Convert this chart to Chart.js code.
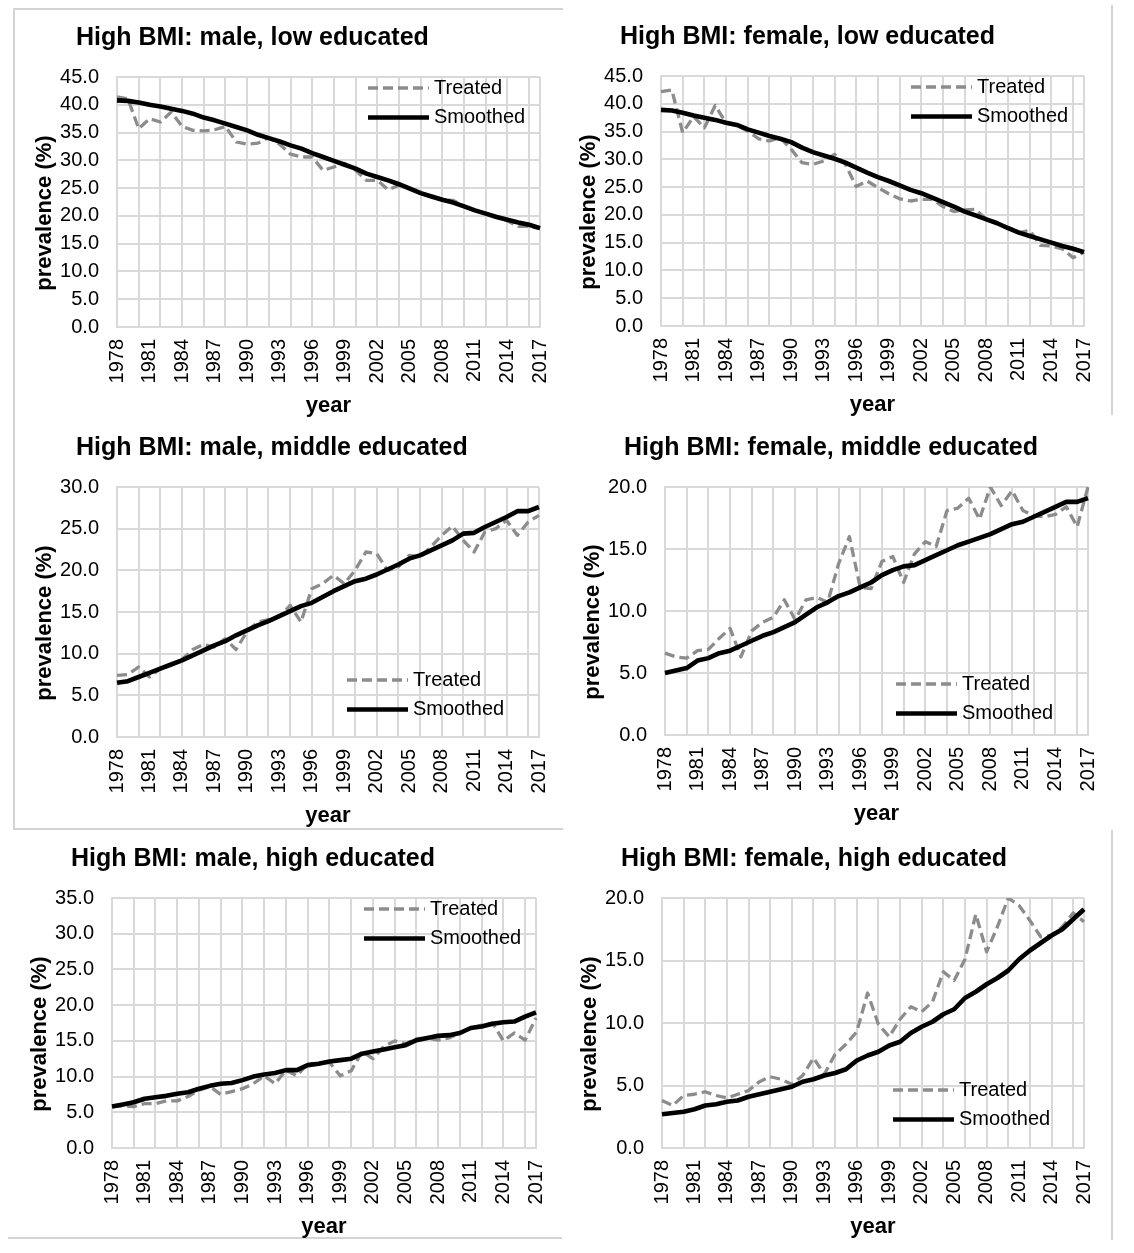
<!DOCTYPE html>
<html>
<head>
<meta charset="utf-8">
<title>High BMI prevalence by sex and education</title>
<script src="https://cdn.jsdelivr.net/npm/chart.js@4.4.1/dist/chart.umd.min.js"></script>
<style>
  body { margin: 0; background: #fff; }
  #page { position: relative; width: 1134px; height: 1253px; overflow: hidden; }
  #page canvas { position: absolute; }
  .frame { position: absolute; border: 0 solid #d4d4d4; }
</style>
</head>
<body>
<div id="page">
  <div class="frame" style="left:13px; top:8px; width:548px; height:818px; border-top-width:2px; border-left-width:2px; border-bottom-width:2px;"></div>
  <div class="frame" style="left:1111px; top:5px; width:0; height:410px; border-left-width:2px;"></div>
  <div class="frame" style="left:8px; top:1237px; width:554px; height:0; border-top-width:2px;"></div>
  <div class="frame" style="left:1111px; top:830px; width:0; height:410px; border-left-width:2px;"></div>
</div>

<script>
const years = ['1978', '1979', '1980', '1981', '1982', '1983', '1984', '1985', '1986', '1987',
               '1988', '1989', '1990', '1991', '1992', '1993', '1994', '1995', '1996', '1997',
               '1998', '1999', '2000', '2001', '2002', '2003', '2004', '2005', '2006', '2007',
               '2008', '2009', '2010', '2011', '2012', '2013', '2014', '2015', '2016', '2017'];

// male, low educated
const maleLowTreated = [41.4, 41.1, 35.7, 37.5, 36.9, 38.7, 36.1, 35.4, 35.3, 35.5, 36.1, 33.3, 32.9, 33.1, 34.1, 32.9, 31.1, 30.6, 30.6, 28.2,
                        28.8, 29.4, 28.2, 26.4, 26.4, 24.7, 25.5, 24.9, 24.1, 23.4, 22.9, 22.8, 21.7, 21.0, 20.4, 19.8, 19.1, 18.1, 18.1, 17.7];
const maleLowSmoothed = [40.8, 40.7, 40.4, 40.0, 39.7, 39.3, 38.9, 38.4, 37.7, 37.2, 36.6, 36.0, 35.4, 34.6, 34.0, 33.4, 32.7, 32.1, 31.3, 30.6,
                         29.9, 29.2, 28.5, 27.6, 27.0, 26.4, 25.7, 24.9, 24.1, 23.5, 22.9, 22.4, 21.7, 21.0, 20.4, 19.8, 19.3, 18.8, 18.4, 17.8];

// female, low educated
const femaleLowTreated = [42.2, 42.5, 34.8, 37.7, 35.7, 39.7, 36.5, 36.1, 35.1, 33.7, 33.3, 33.9, 31.8, 29.4, 29.1, 29.7, 30.9, 29.1, 25.1, 26.1,
                          24.9, 23.8, 22.9, 22.5, 22.8, 22.8, 21.5, 20.6, 20.9, 21.0, 19.2, 18.5, 17.8, 16.8, 17.2, 14.5, 14.4, 13.9, 12.3, 13.3];
const femaleLowSmoothed = [38.9, 38.8, 38.4, 37.9, 37.5, 37.1, 36.6, 36.2, 35.4, 34.8, 34.2, 33.7, 33.1, 32.1, 31.3, 30.7, 30.1, 29.4, 28.5, 27.6,
                           26.8, 26.1, 25.3, 24.5, 23.9, 23.1, 22.3, 21.5, 20.6, 19.9, 19.2, 18.5, 17.6, 16.8, 16.2, 15.6, 15.0, 14.4, 13.9, 13.3];

// male, middle educated
const maleMidTreated = [7.4, 7.5, 8.4, 7.2, 8.2, 8.7, 9.3, 10.5, 11.1, 10.8, 11.8, 10.5, 12.6, 13.8, 14.1, 14.4, 15.8, 13.8, 17.8, 18.4,
                        19.4, 18.4, 20.0, 22.2, 22.0, 20.0, 20.4, 21.8, 21.6, 22.8, 24.2, 25.3, 23.6, 22.2, 24.6, 25.0, 26.0, 24.2, 25.8, 26.6];
const maleMidSmoothed = [6.5, 6.7, 7.2, 7.7, 8.2, 8.7, 9.2, 9.8, 10.4, 11.0, 11.5, 12.2, 12.8, 13.4, 13.9, 14.5, 15.1, 15.7, 16.1, 16.8,
                         17.5, 18.1, 18.7, 19.0, 19.5, 20.1, 20.7, 21.4, 21.8, 22.4, 23.0, 23.6, 24.4, 24.5, 25.2, 25.8, 26.4, 27.1, 27.1, 27.6];

// female, middle educated
const femaleMidTreated = [6.6, 6.3, 6.2, 6.8, 6.9, 7.8, 8.6, 6.3, 8.4, 9.1, 9.5, 10.9, 9.3, 10.9, 11.1, 10.7, 13.8, 16.0, 11.9, 11.8,
                          14.0, 14.4, 12.3, 14.6, 15.6, 15.2, 18.1, 18.3, 19.1, 17.4, 20.0, 18.5, 19.7, 18.1, 17.7, 17.6, 17.8, 18.4, 16.8, 20.0];
const femaleMidSmoothed = [5.0, 5.2, 5.4, 6.0, 6.2, 6.6, 6.8, 7.2, 7.6, 8.0, 8.3, 8.7, 9.1, 9.7, 10.3, 10.7, 11.2, 11.5, 11.9, 12.3,
                           12.9, 13.3, 13.6, 13.7, 14.1, 14.5, 14.9, 15.3, 15.6, 15.9, 16.2, 16.6, 17.0, 17.2, 17.6, 18.0, 18.4, 18.8, 18.8, 19.1];

// male, high educated
const maleHighTreated = [5.8, 5.9, 5.8, 6.2, 6.2, 6.6, 6.6, 7.2, 8.1, 8.6, 7.5, 7.9, 8.3, 9.0, 10.1, 9.0, 10.9, 10.1, 11.8, 11.8,
                         12.0, 10.1, 10.8, 13.5, 12.5, 14.2, 15.0, 14.6, 15.3, 15.4, 15.1, 15.4, 16.1, 16.8, 17.2, 17.5, 15.0, 16.1, 15.1, 18.2];
const maleHighSmoothed = [5.8, 6.1, 6.4, 6.9, 7.1, 7.3, 7.6, 7.8, 8.3, 8.7, 9.0, 9.1, 9.5, 10.0, 10.3, 10.5, 10.9, 10.9, 11.6, 11.8,
                          12.1, 12.3, 12.5, 13.2, 13.5, 13.8, 14.1, 14.4, 15.1, 15.4, 15.7, 15.8, 16.1, 16.8, 17.0, 17.4, 17.6, 17.7, 18.4, 19.0];

// female, high educated
const femaleHighTreated = [3.8, 3.4, 4.2, 4.3, 4.5, 4.2, 4.0, 4.3, 4.6, 5.3, 5.7, 5.5, 5.1, 5.8, 7.2, 5.9, 7.5, 8.3, 9.3, 12.4,
                           9.9, 8.9, 10.3, 11.3, 10.9, 11.7, 14.1, 13.4, 15.1, 18.7, 15.7, 17.7, 20.0, 19.4, 18.2, 16.9, 17.0, 17.7, 18.8, 18.1];
const femaleHighSmoothed = [2.7, 2.8, 2.9, 3.1, 3.4, 3.5, 3.7, 3.8, 4.1, 4.3, 4.5, 4.7, 4.9, 5.3, 5.5, 5.8, 6.0, 6.3, 7.0, 7.4,
                            7.7, 8.2, 8.5, 9.2, 9.7, 10.1, 10.7, 11.1, 12.0, 12.5, 13.1, 13.6, 14.2, 15.1, 15.8, 16.4, 17.0, 17.5, 18.3, 19.1];

const seriesNames = ['Treated', 'Smoothed'];

// plot box [left, top, right, bottom] and legend offset (from plot right, from plot top)
const panels = [
    { title: 'High BMI: male, low educated', treated: maleLowTreated, smoothed: maleLowSmoothed, yMax: 45, plot: [117, 77, 540, 327], legend: [172, 11] },
    { title: 'High BMI: female, low educated', treated: femaleLowTreated, smoothed: femaleLowSmoothed, yMax: 45, plot: [661, 76, 1084, 326], legend: [173, 11] },
    { title: 'High BMI: male, middle educated', treated: maleMidTreated, smoothed: maleMidSmoothed, yMax: 30, plot: [117, 487, 539, 737], legend: [192, 193] },
    { title: 'High BMI: female, middle educated', treated: femaleMidTreated, smoothed: femaleMidSmoothed, yMax: 20, plot: [665, 487, 1088, 735], legend: [192, 197] },
    { title: 'High BMI: male, high educated', treated: maleHighTreated, smoothed: maleHighSmoothed, yMax: 35, plot: [112, 898, 536, 1148], legend: [172, 11] },
    { title: 'High BMI: female, high educated', treated: femaleHighTreated, smoothed: femaleHighSmoothed, yMax: 20, plot: [662, 898, 1084, 1148], legend: [191, 192] }
];

const FONT = '"Liberation Sans", Arial, Helvetica, sans-serif';
const GRID = '#d9d9d9';
const PAD_TOP = 60, PAD_RIGHT = 40, Y_AXIS_W = 85, X_AXIS_H = 92;

Chart.defaults.font.family = FONT;
Chart.defaults.color = '#000';

// title, y axis title and legend, placed relative to the plot area
const panelDecor = {
    id: 'panelDecor',
    afterDraw(chart, args, opts) {
        const { ctx, chartArea } = chart;
        ctx.save();
        ctx.fillStyle = '#000';
        ctx.textBaseline = 'middle';
        ctx.textAlign = 'left';
        ctx.font = 'bold 25px ' + FONT;
        ctx.fillText(opts.title, chartArea.left - 41, chartArea.top - 39);

        ctx.save();
        ctx.translate(chartArea.left - 72, (chartArea.top + chartArea.bottom) / 2 + 11);
        ctx.rotate(-Math.PI / 2);
        ctx.textAlign = 'center';
        ctx.font = 'bold 22px ' + FONT;
        ctx.fillText(opts.yTitle, 0, 0);
        ctx.restore();

        const x0 = chartArea.right - opts.legend[0];
        let y = chartArea.top + opts.legend[1];
        ctx.font = '20px ' + FONT;
        chart.data.datasets.forEach(ds => {
            ctx.beginPath();
            ctx.strokeStyle = ds.borderColor;
            ctx.lineWidth = ds.borderWidth;
            ctx.setLineDash(ds.borderDash || []);
            ctx.moveTo(x0, y);
            ctx.lineTo(x0 + 61, y);
            ctx.stroke();
            ctx.setLineDash([]);
            ctx.fillText(ds.label, x0 + 66, y);
            y += 29.5;
        });
        ctx.restore();
    }
};

const page = document.getElementById('page');

panels.forEach(p => {
    const [left, top, right, bottom] = p.plot;
    const canvas = document.createElement('canvas');
    canvas.width = right - left + Y_AXIS_W + PAD_RIGHT;
    canvas.height = bottom - top + PAD_TOP + X_AXIS_H;
    canvas.style.left = (left - Y_AXIS_W) + 'px';
    canvas.style.top = (top - PAD_TOP) + 'px';
    page.appendChild(canvas);

    new Chart(canvas, {
        type: 'line',
        data: {
            labels: years,
            datasets: [
                {
                    label: seriesNames[0],
                    data: p.treated,
                    borderColor: '#8c8c8c',
                    borderWidth: 3.3,
                    borderDash: [10, 5],
                    order: 2
                },
                {
                    label: seriesNames[1],
                    data: p.smoothed,
                    borderColor: '#000000',
                    borderWidth: 4.6,
                    order: 1
                }
            ]
        },
        options: {
            responsive: false,
            animation: false,
            layout: { padding: { top: PAD_TOP, right: PAD_RIGHT, bottom: 0, left: 0 } },
            elements: {
                point: { radius: 0, hoverRadius: 0 },
                line: { tension: 0, fill: false, borderJoinStyle: 'round' }
            },
            plugins: {
                legend: { display: false },
                tooltip: { enabled: false },
                panelDecor: { title: p.title, yTitle: 'prevalence (%)', legend: p.legend }
            },
            scales: {
                x: {
                    offset: false,
                    grid: {
                        color: c => (c.index % 2 === 0 || c.index === years.length - 1) ? GRID : 'rgba(0,0,0,0)',
                        lineWidth: 2,
                        drawTicks: false
                    },
                    border: { color: GRID, width: 2 },
                    ticks: {
                        autoSkip: false,
                        minRotation: 90,
                        maxRotation: 90,
                        padding: 12,
                        font: { size: 20 },
                        color: '#000',
                        callback: (v, i) => (i % 3 === 0 ? years[i] : '')
                    },
                    title: { display: true, text: 'year', font: { size: 22, weight: 'bold' }, color: '#000', padding: 0 },
                    afterFit: s => { s.height = X_AXIS_H; }
                },
                y: {
                    min: 0,
                    max: p.yMax,
                    grid: { color: GRID, lineWidth: 2, drawTicks: false },
                    border: { color: GRID, width: 2 },
                    ticks: {
                        stepSize: 5,
                        padding: 18,
                        font: { size: 20 },
                        color: '#000',
                        callback: v => Number(v).toFixed(1)
                    },
                    title: { display: false },
                    afterFit: s => { s.width = Y_AXIS_W; }
                }
            }
        },
        plugins: [panelDecor]
    });
});
</script>
</body>
</html>
